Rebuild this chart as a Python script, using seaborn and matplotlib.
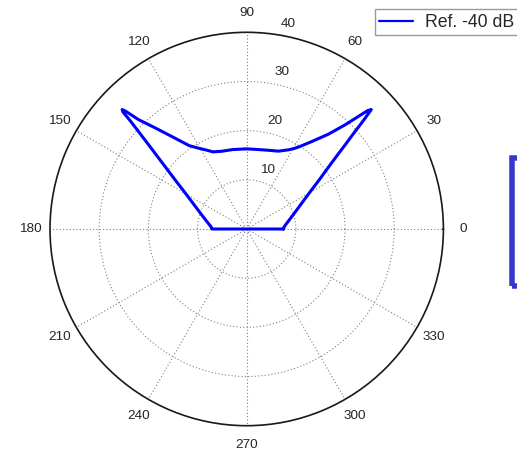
import numpy as np
import pandas as pd
import matplotlib
matplotlib.use("Agg")
import matplotlib.pyplot as plt
from matplotlib.patches import Rectangle
import seaborn as sns

# Radiation pattern, level above the -40 dB reference (dB), by azimuth (deg)
angle_deg = [0, 3, 8, 16.2, 24.7, 30.3, 34.1, 36.9, 39.0, 40.6, 41.9, 42.9, 43.8,
             44.4, 45.2, 46.6, 49.2, 53.3, 57.1, 59.5, 62.2, 67.8, 73, 79.2, 90,
             100, 107.7, 113.5, 117.7, 121, 124.6, 129.0, 132.2, 134.7, 135.8,
             136.2, 136.6, 137.1, 138.1, 139.3, 140.9, 142.9, 145.6, 149.3,
             154.7, 163.4, 172, 177, 180, 180, 270, 360, 360]
level_db = [7.5, 7.6, 8.2, 9.7, 12.2, 14.9, 17.8, 20.6, 23.5, 26.5, 29.4, 32.4, 35.1,
            34.4, 32.3, 29.2, 25.5, 22.2, 20.0, 19.0, 18.2, 17.1, 16.7, 16.4, 16.3,
            16.4, 16.6, 17.1, 18.2, 19.2, 20.6, 24.2, 27.8, 31.3, 34.4,
            35.1, 34.6, 32.3, 29.3, 26.4, 23.4, 20.5, 17.6, 14.7,
            12.0, 9.4, 7.85, 7.2, 7.1, 0, 0, 0, 7.5]
series_name = "Ref. -40 dB"

ring_values = [10, 20, 30, 40]
spoke_angles = list(range(0, 360, 30))

sns.set_theme(style="white")
plt.rcParams["font.family"] = ["Liberation Sans", "DejaVu Sans"]

W, H = 517, 454
fig = plt.figure(figsize=(W / 100, H / 100), dpi=100)
cx, cy, R = 246.7, 229.0, 196.7
ax = fig.add_axes([(cx - R) / W, (H - cy - R) / H, 2 * R / W, 2 * R / H],
                  projection="polar")

df = pd.DataFrame({"theta": np.deg2rad(angle_deg), "r": level_db})
sns.lineplot(data=df, x="theta", y="r", ax=ax, sort=False, estimator=None,
             color="#0000ff", linewidth=2.2, label=series_name, legend=False)

ax.set_rlim(0, 40)
ax.set_thetagrids(spoke_angles, labels=[""] * len(spoke_angles))
ax.set_rgrids(ring_values, labels=[""] * len(ring_values))
ax.set_xlabel("")
ax.set_ylabel("")
ax.grid(True, color="#808080", linestyle=(0, (1, 2)), linewidth=0.8)
ax.spines["polar"].set_color("#1a1a1a")
ax.spines["polar"].set_linewidth(1.2)

txt_color = "#262626"
for a in spoke_angles:
    ax.text(np.deg2rad(a), 44, str(a), ha="center", va="center",
            fontsize=9.7, color=txt_color)

for rv in ring_values:
    ax.annotate(str(rv), xy=(np.deg2rad(82), rv + 0.5), xycoords="data",
                xytext=(14, 8), textcoords="offset pixels",
                ha="center", va="center", fontsize=9.7, color=txt_color,
                annotation_clip=False)

handles, labels = ax.get_legend_handles_labels()
leg = fig.legend(handles, labels, loc="upper left",
                 bbox_to_anchor=(375 / W, 1 - 9.3 / H), bbox_transform=fig.transFigure,
                 borderaxespad=0, fontsize=12.7, frameon=True, fancybox=False,
                 edgecolor="#9a9a9a", framealpha=1, borderpad=0.25,
                 handlelength=1.9, handletextpad=0.7)
for ln in leg.get_lines():
    ln.set_linewidth(1.6)

# framed marker strip at the right edge
lw_px = 5.5
x0, top, bottom = 509.7 + lw_px / 2, 155 + lw_px / 2, 289 - lw_px / 2
fig.add_artist(Rectangle((x0 / W, (H - bottom) / H), (540 - x0) / W,
                         (bottom - top) / H, transform=fig.transFigure,
                         fill=False, edgecolor="#3636cc", linewidth=lw_px * 0.72))

fig.savefig("out.png", dpi=100)
